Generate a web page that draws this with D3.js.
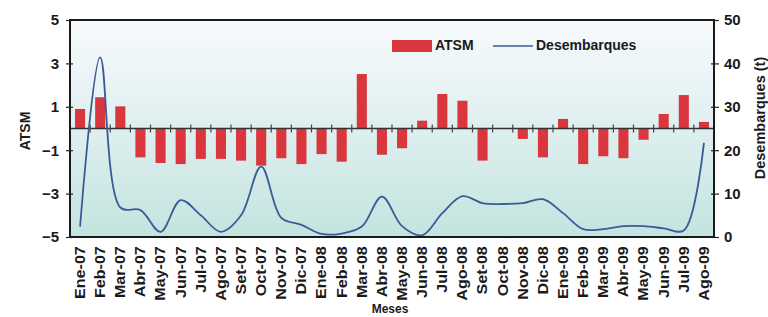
<!DOCTYPE html>
<html>
<head>
<meta charset="utf-8">
<script src="https://cdn.jsdelivr.net/npm/d3@7"></script>
<style>
html,body{margin:0;padding:0;background:#fff;}
svg{display:block;}
text{font-family:"Liberation Sans",Arial,sans-serif;fill:#1a1a1a;}
</style>
</head>
<body>
<svg id="chart" width="768" height="317"></svg>
<script>
const months = ["Ene-07","Feb-07","Mar-07","Abr-07","May-07","Jun-07","Jul-07","Ago-07","Set-07","Oct-07","Nov-07","Dic-07",
"Ene-08","Feb-08","Mar-08","Abr-08","May-08","Jun-08","Jul-08","Ago-08","Set-08","Oct-08","Nov-08","Dic-08",
"Ene-09","Feb-09","Mar-09","Abr-09","May-09","Jun-09","Jul-09","Ago-09"];
const atsm = [0.9,1.44,1.02,-1.33,-1.59,-1.64,-1.4,-1.4,-1.48,-1.71,-1.37,-1.64,
-1.18,-1.53,2.51,-1.21,-0.91,0.36,1.59,1.28,-1.48,0,-0.48,-1.33,
0.44,-1.64,-1.28,-1.37,-0.52,0.67,1.54,0.3];
const desembarques = [2.4,41.4,6.8,6.2,1.2,8.5,5.0,1.2,5.0,16.2,4.4,2.8,
0.7,0.8,2.4,9.3,2.5,0.4,5.5,9.4,7.8,7.6,7.8,8.7,
5.5,1.8,1.8,2.5,2.5,2.0,1.5,21.7];
const leftTicks = [5,3,1,-1,-3,-5];
const rightTicks = [0,10,20,30,40,50];

const svg = d3.select("#chart");
const L=70, R=714, T=20, B=237;

const x = d3.scaleBand().domain(months).range([L,R]).paddingInner(0.5).paddingOuter(0.25);
const yL = d3.scaleLinear().domain([-5,5]).range([B,T]);
const yR = d3.scaleLinear().domain([0,50]).range([B,T]);

const defs = svg.append("defs");
const g = defs.append("linearGradient").attr("id","bg").attr("x1",0).attr("y1",0).attr("x2",0).attr("y2",1);
g.append("stop").attr("offset","0%").attr("stop-color","#f7fafc");
g.append("stop").attr("offset","40%").attr("stop-color","#e4f1f3");
g.append("stop").attr("offset","100%").attr("stop-color","#c3e4df");

svg.append("rect").attr("x",L).attr("y",T).attr("width",R-L).attr("height",B-T).attr("fill","url(#bg)");

// bars
svg.append("g").selectAll("rect").data(atsm).join("rect")
  .attr("x",(d,i)=>x(months[i]))
  .attr("width",x.bandwidth())
  .attr("y",d=>yL(Math.max(0,d)))
  .attr("height",d=>Math.abs(yL(d)-yL(0)))
  .attr("fill","#d9363e");

// zero axis with ticks at category boundaries
svg.append("line").attr("x1",L).attr("x2",R).attr("y1",yL(0)).attr("y2",yL(0))
  .attr("stroke","#333").attr("stroke-width",1.5);
svg.append("g").selectAll("line").data(months.slice(1)).join("line")
  .attr("x1",d=>x(d)-x.step()*x.paddingInner()/2)
  .attr("x2",d=>x(d)-x.step()*x.paddingInner()/2)
  .attr("y1",yL(0)-4).attr("y2",yL(0)+4)
  .attr("stroke","#444").attr("stroke-width",1.2);

// line
const line = d3.line()
  .x((d,i)=>x(months[i])+x.bandwidth()/2)
  .y(d=>yR(d))
  .curve(d3.curveCatmullRom.alpha(0.5));
svg.append("path").datum(desembarques).attr("d",line)
  .attr("fill","none").attr("stroke","#3b5a98").attr("stroke-width",1.8);

// frame
svg.append("rect").attr("x",L).attr("y",T).attr("width",R-L).attr("height",B-T)
  .attr("fill","none").attr("stroke","#1a1a1a").attr("stroke-width",2);

// left axis
const la = svg.append("g").attr("transform",`translate(${L},0)`)
  .call(d3.axisLeft(yL).tickValues(leftTicks).tickSize(4).tickFormat(d3.format("d")));
la.select(".domain").remove();
la.selectAll(".tick line").attr("x2",3).attr("x1",-4).attr("stroke","#222").attr("stroke-width",1.2);
la.selectAll(".tick text").attr("x",-11).attr("font-size",15).attr("font-weight","bold")
  .style("font-family","'Liberation Sans',Arial,sans-serif").attr("fill","#1a1a1a");

// right axis
const ra = svg.append("g").attr("transform",`translate(${R},0)`)
  .call(d3.axisRight(yR).tickValues(rightTicks).tickSize(4));
ra.select(".domain").remove();
ra.selectAll(".tick line").attr("x1",-3).attr("x2",5).attr("stroke","#222").attr("stroke-width",1.2);
ra.selectAll(".tick text").attr("x",10).attr("font-size",15).attr("font-weight","bold")
  .style("font-family","'Liberation Sans',Arial,sans-serif").attr("fill","#1a1a1a");

// x labels
const xa = svg.append("g").attr("transform",`translate(0,${B})`)
  .call(d3.axisBottom(x).tickSize(0));
xa.select(".domain").remove();
xa.selectAll(".tick text")
  .attr("transform","rotate(-90) scale(1.15,1)")
  .attr("x",-8).attr("y",0).attr("dy","0.35em")
  .attr("text-anchor","end")
  .attr("font-size",14).attr("font-weight","bold")
  .style("font-family","'Liberation Sans',Arial,sans-serif").attr("fill","#1a1a1a");

// axis titles
svg.append("text").attr("transform","translate(26,131) rotate(-90)")
  .attr("text-anchor","middle").attr("dominant-baseline","middle")
  .attr("font-size",14).attr("font-weight","bold").text("ATSM");
svg.append("text").attr("transform","translate(761,118) rotate(-90)")
  .attr("text-anchor","middle").attr("dominant-baseline","middle")
  .attr("font-size",14.5).attr("font-weight","bold").text("Desembarques (t)");
svg.append("text").attr("x",390).attr("y",313)
  .attr("text-anchor","middle")
  .attr("font-size",12).attr("font-weight","bold").text("Meses");

// legend
const lg = svg.append("g");
lg.append("rect").attr("x",392).attr("y",40).attr("width",40).attr("height",12).attr("fill","#d9363e");
lg.append("text").attr("x",435).attr("y",46).attr("dominant-baseline","middle")
  .attr("font-size",14).attr("font-weight","bold").text("ATSM");
lg.append("line").attr("x1",493).attr("x2",533).attr("y1",46).attr("y2",46)
  .attr("stroke","#3b5a98").attr("stroke-width",1.5);
lg.append("text").attr("x",536).attr("y",46).attr("dominant-baseline","middle")
  .attr("font-size",14).attr("font-weight","bold").text("Desembarques");
</script>
</body>
</html>
